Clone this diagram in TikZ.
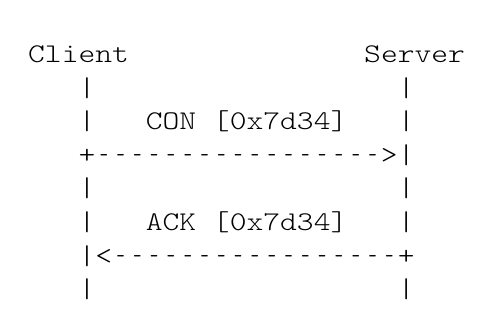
\documentclass[tikz,border=0pt]{standalone}
\usepackage{graphicx}
\usepackage{fontspec}
\setmonofont{Latin Modern Mono Light}[FakeStretch=1.185]
\newfontfamily\dashfont{Latin Modern Mono Light}
\newcount\mydashcount
\newcommand\onedash{\makebox[16.8pt][c]{\dashfont\fontsize{27}{33.6}\selectfont\scalebox{0.6}[1]{-}}}
\newcommand\dashrun[1]{\mydashcount=0\relax
  \loop\onedash\advance\mydashcount by 1\relax\ifnum\mydashcount<#1\repeat}
\begin{document}
\begin{tikzpicture}[x=1pt,y=1pt,
  txt/.style={anchor=base west, inner sep=0pt, text=black,
              font=\ttfamily\fontsize{27}{33.6}\selectfont}]
\useasboundingbox (0,0) rectangle (492,-327);
\def\cw{16.8}
\def\lh{33.6}
\def\xo{28}
\def\yo{62.5}
% header
\node[txt] (client) at ({\xo+\cw*0},{-(\yo+\lh*0)}) {Client};
\node[txt] (server) at ({\xo+\cw*20},{-(\yo+\lh*0)}) {Server};
% lifeline bars
\foreach \r in {1,2,4,5,7}{
  \node[txt] (cbar\r) at ({\xo+\cw*3},{-(\yo+\lh*\r)}) {|};
  \node[txt] (sbar\r) at ({\xo+\cw*22},{-(\yo+\lh*\r)}) {|};
}
% messages
\node[txt] (msgcon) at ({\xo+\cw*7},{-(\yo+\lh*2)}) {CON [0x7d34]};
\node[txt] (arrcon) at ({\xo+\cw*3},{-(\yo+\lh*3)}) {+\dashrun{17}>|};
\node[txt] (msgack) at ({\xo+\cw*7},{-(\yo+\lh*5)}) {ACK [0x7d34]};
\node[txt] (arrack) at ({\xo+\cw*3},{-(\yo+\lh*6)}) {|<\dashrun{17}+};
\end{tikzpicture}
\end{document}
